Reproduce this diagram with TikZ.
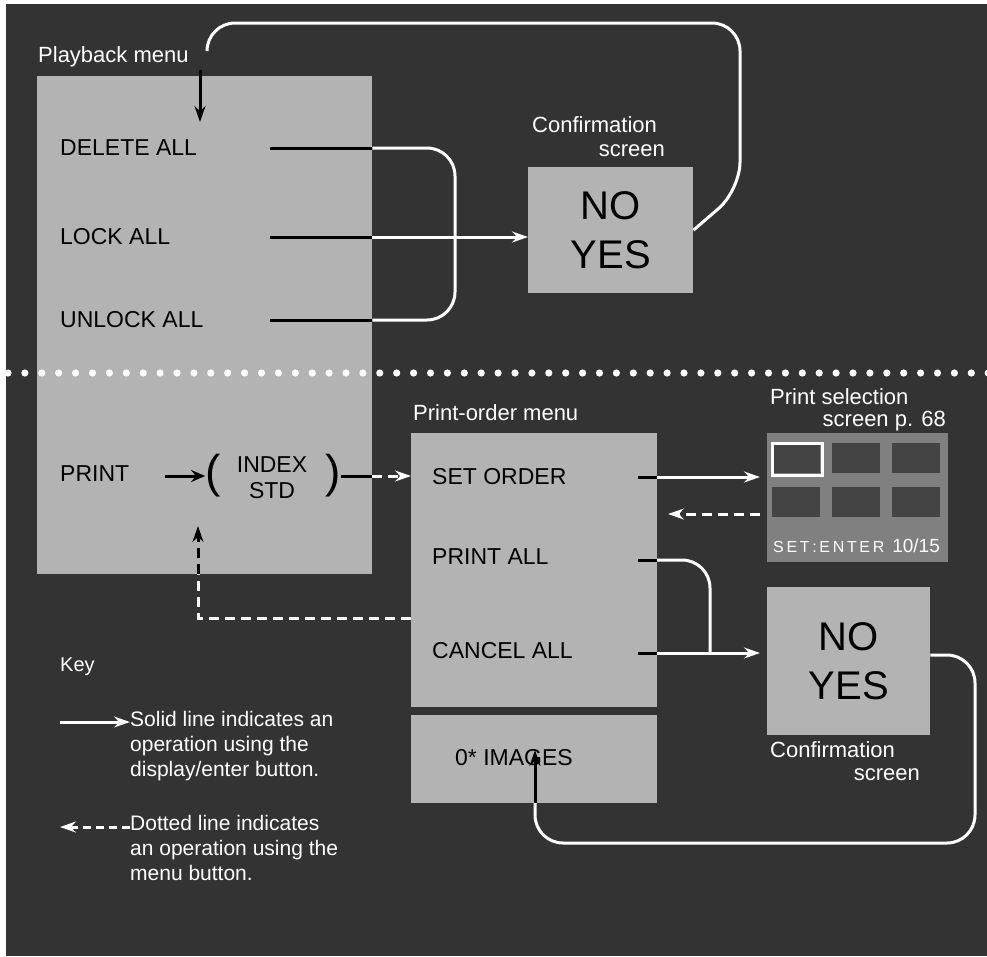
\documentclass[tikz,border=0pt]{standalone}
\usepackage{fontspec}
\setmainfont{Liberation Sans}
\usetikzlibrary{arrows.meta,positioning}
\definecolor{bgdark}{HTML}{333333}
\definecolor{panel}{HTML}{B3B3B3}
\definecolor{scr}{HTML}{808080}
\definecolor{thumb}{HTML}{444444}
\tikzset{
  box/.style={fill=panel,draw=none,inner sep=0pt,anchor=north west},
  item/.style={anchor=west,font=\fontsize{23}{26}\selectfont,text=black,inner sep=0pt},
  wlabel/.style={text=white,font=\fontsize{22}{25}\selectfont,inner sep=0pt,align=left},
  flow/.style={white,line width=3pt,rounded corners=28pt},
  tick/.style={black,line width=3pt},
  solidarr/.style={white,line width=3pt,-{Stealth[length=16pt,width=11pt]}},
  dasharr/.style={white,line width=3pt,dash pattern=on 10pt off 6pt,-{Stealth[length=16pt,width=11pt]}},
  blackarr/.style={black,line width=3pt,-{Stealth[length=16pt,width=11pt]}},
}
\begin{document}
\begin{tikzpicture}[x=1pt,y=-1pt]
\useasboundingbox (0,0) rectangle (987,956);
\fill[white] (0,0) rectangle (987,956);
\fill[bgdark] (6,4) rectangle (987,956);
% playback menu
\node[box,minimum width=335pt,minimum height=498pt] (play) at (37,76) {};
\node[wlabel,anchor=west] (playlbl) at (38,57) {Playback menu};
\node[item] (del) at (60,148) {DELETE ALL};
\node[item] (lock) at (60,237) {LOCK ALL};
\node[item] (unlock) at (60,320) {UNLOCK ALL};
\node[item] (print) at (60,474) {PRINT};
\node[item,align=center,anchor=center] (idx) at (272,478) {INDEX\\STD};
\node[item,font=\fontsize{46}{50}\selectfont,anchor=center] (lpar) at (213,476) {(};
\node[item,font=\fontsize{46}{50}\selectfont,anchor=center] (rpar) at (333,476) {)};
% confirmation 1
\node[box,minimum width=165pt,minimum height=126pt] (conf) at (528,167) {};
\node[item,anchor=center,align=center,font=\fontsize{40}{49}\selectfont] (confny) at (conf.center) {NO\\YES};
\node[wlabel,anchor=west] (conflbl) at (532,125) {Confirmation};
\node[wlabel,anchor=east] (conflbl2) at (665,151) {screen};
% divider
\foreach \i in {0,...,58} \fill[white] (8+\i*16.9,373) circle (3.6pt);
% print-order menu
\node[box,minimum width=246pt,minimum height=274pt] (order) at (411,433) {};
\node[wlabel,anchor=west] (orderlbl) at (413,413) {Print-order menu};
\node[item] (setord) at (432,477) {SET ORDER};
\node[item] (prall) at (432,557) {PRINT ALL};
\node[item] (canall) at (432,651) {CANCEL ALL};
\node[box,minimum width=246pt,minimum height=88pt] (images) at (411,715) {};
\node[item,anchor=center] (imglbl) at (514,758) {0* IMAGES};
% print selection screen
\node[box,fill=scr,minimum width=181pt,minimum height=129pt] (sel) at (767,433) {};
\foreach \r/\y in {0/443,1/487}
  \foreach \c/\x in {0/772,1/832,2/892}
    \fill[thumb] (\x,\y) rectangle ++(48,30);
\draw[white,line width=3pt] (772,443) rectangle ++(50,32);
\node[text=white,anchor=west,inner sep=0pt,font=\fontsize{16}{18}\selectfont] (sellbl) at (773,546) {S\,E\,T\,:\,E\,N\,T\,E\,R\enspace\fontsize{19}{20}\selectfont 10/15};
\node[wlabel,anchor=west] (seltop) at (770,397) {Print selection};
\node[wlabel,anchor=east] (seltop2) at (946,421) {screen p. 68};
% confirmation 2
\node[box,minimum width=163pt,minimum height=148pt] (conf2) at (767,587) {};
\node[item,anchor=center,align=center,font=\fontsize{40}{49}\selectfont] (conf2ny) at (conf2.center) {NO\\YES};
\node[wlabel,anchor=west] (conf2lbl) at (770,750) {Confirmation};
\node[wlabel,anchor=east] (conf2lbl2) at (920,775) {screen};
% key
\node[wlabel,anchor=west,font=\fontsize{20}{24}\selectfont] (key) at (60,667) {Key};
\node[wlabel,anchor=north west,font=\fontsize{21}{25}\selectfont] (key1) at (130,711) {Solid line indicates an\\operation using the\\display/enter button.};
\node[wlabel,anchor=north west,font=\fontsize{21}{25}\selectfont] (key2) at (130,815) {Dotted line indicates\\an operation using the\\menu button.};
\coordinate (k1) at (60,722);
\coordinate (k2) at (60,827);
\draw[solidarr] (k1) -- (key1.west |- k1);
\draw[dasharr,dash pattern=on 8pt off 5pt] (key2.west |- k2) -- (k2);
% connectors, top half
\coordinate (topin) at (200,70);
\draw[blackarr] (topin) -- (200,122);
\draw[flow] (conf.east) -- (740,190) -- (740,23) -- (207,23) -- (207,48);
\foreach \n in {del,lock,unlock} \draw[tick] (270,0 |- \n.west) -- (play.east |- \n.west);
\draw[flow] (play.east |- del.west) -- (455,148) -- (455,320) -- (play.east |- unlock.west);
\draw[solidarr] (play.east |- lock.west) -- (conf.west |- lock.west);
% connectors, bottom half
\draw[blackarr,-{Stealth[length=14pt,width=12pt]}] (165,476) -- (lpar.west);
\draw[tick] (rpar.east) -- (play.east |- rpar.east);
\draw[dasharr] (play.east |- rpar.east) -- (order.west |- rpar.east);
\foreach \y in {477,560,653} \draw[tick] (638,\y) -- (657,\y);
\draw[solidarr] (657,477) -- (760,477);
\draw[dasharr] (760,514) -- (668,514);
\draw[flow] (657,560) -- (710,560) -- (710,653);
\draw[solidarr] (657,653) -- (760,653);
\coordinate (backend) at (order.west |- 0,618);
\draw[white,line width=3pt,dash pattern=on 10pt off 6pt] (backend) -- (198,618) -- (198,574);
\draw[blackarr,dash pattern=on 10pt off 6pt] (198,574) -- (198,526);
\draw[flow] (conf2.east |- 0,655) -- (975,655) -- (975,843) -- (535,843) -- (535,803);
\draw[blackarr] (535,803) -- (535,750);
\end{tikzpicture}
\end{document}
